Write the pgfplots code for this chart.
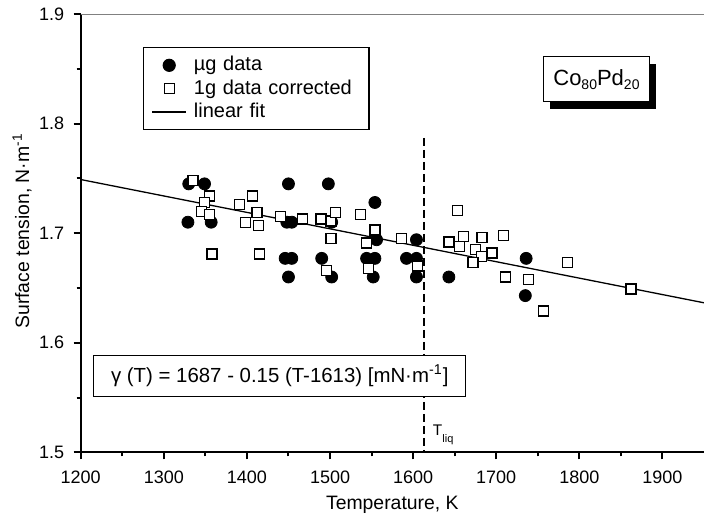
\documentclass[border=0pt]{standalone}
\usepackage{fontspec}
\setmainfont{Liberation Sans}
\usepackage{pgfplots}
\pgfplotsset{compat=1.18}
\usetikzlibrary{shadows}

% microgravity drops
\pgfplotstableread{
T gamma
1330 1.745
1349 1.745
1450 1.745
1498 1.745
1329 1.710
1357 1.710
1448 1.710
1454 1.710
1502 1.710
1446 1.677
1454 1.677
1490 1.677
1544 1.677
1554 1.677
1592 1.677
1604 1.677
1736 1.677
1450 1.660
1502 1.660
1552 1.660
1604 1.660
1643 1.660
1554 1.728
1556 1.694
1604 1.694
1735 1.643
}\ugdata

% ground based, corrected
\pgfplotstableread{
T gamma
1335 1.748
1355 1.734
1349 1.728
1345 1.720
1355 1.717
1358 1.681
1407 1.734
1391 1.726
1412 1.719
1398 1.710
1414 1.707
1415 1.681
1440 1.715
1467 1.713
1489 1.713
1501 1.711
1507 1.719
1501 1.695
1537 1.717
1544 1.691
1496 1.666
1546 1.668
1554 1.703
1586 1.695
1605 1.670
1653 1.721
1643 1.692
1656 1.688
1661 1.697
1675 1.685
1683 1.696
1682 1.679
1695 1.682
1672 1.673
1709 1.698
1711 1.660
1739 1.658
1757 1.629
1786 1.673
1862 1.649
}\onegdata

\begin{document}
\begin{tikzpicture}
\begin{axis}[
    name=ax,
    scale only axis, width=311.65pt, height=219.15pt,
    xmin=1200, xmax=1950, ymin=1.5, ymax=1.9,
    axis x line*=bottom, axis y line*=left,
    axis line style={line width=1pt},
    xtick={1200,1300,...,1900}, ytick={1.5,1.6,1.7,1.8,1.9},
    minor x tick num=1, minor y tick num=1,
    tick align=outside, major tick length=3.5pt, minor tick length=2pt,
    tick style={line width=1pt, black},
    tick label style={font=\fontsize{9}{10}\selectfont},
    /pgf/number format/assume math mode=true,
    /pgf/number format/1000 sep={},
    yticklabel style={/pgf/number format/fixed,
        /pgf/number format/precision=1,
        /pgf/number format/fixed zerofill, xshift=-1.3pt},
    xticklabel style={yshift=-2.3pt},
    xlabel={Temperature, K},
    ylabel={Surface tension, N·m\textsuperscript{-1}},
    label style={font=\fontsize{9.7}{11}\selectfont},
    xlabel style={at={(axis description cs:0.5,0)}, anchor=north,
        yshift=-21.5pt, inner sep=0pt},
    ylabel style={at={(axis description cs:-0.094,0.505)}, anchor=center,
        inner sep=0pt},
    legend cell align=left,
    legend style={at={(axis description cs:0.0998,0.9247)},
        anchor=north west, draw=black, line width=0.6pt,
        font=\fontsize{10}{12}\selectfont,
        inner xsep=4pt, inner ysep=3.5pt, row sep=1pt, column sep=3pt,
        nodes={inner sep=0.5pt, text height=7.5pt, text depth=2.2pt,
            text width=83pt, align=left}},
]
    \addlegendimage{only marks, mark=*, mark size=3pt, black}
    \addlegendentry{µg data}
    \addlegendimage{only marks, mark=square*, mark size=2.5pt,
        mark options={draw=black, fill=white, line width=0.65pt}}
    \addlegendentry{1g data corrected}
    \addlegendimage{line width=0.65pt, black}
    \addlegendentry{linear fit}

    \draw[gray, line width=0.5pt] (rel axis cs:0,1) -- (rel axis cs:1,1);

    % gamma = 1687 - 0.15 (T - 1613) mN/m
    \addplot[forget plot, line width=0.65pt, black]
        coordinates {(1200,1.74895) (1950,1.63645)};
    % liquidus
    \addplot[forget plot, line width=0.8pt, black,
        dash pattern=on 4.2pt off 1.8pt]
        coordinates {(1613,1.787) (1613,1.5)};

    \addplot[forget plot, only marks, mark=*, mark size=3pt, black]
        table[x=T, y=gamma] {\ugdata};
    \addplot[forget plot, only marks, mark=square*, mark size=2.5pt,
        mark options={draw=black, fill=white, line width=0.65pt}]
        table[x=T, y=gamma] {\onegdata};

    \node[draw, line width=0.6pt, fill=white, minimum width=53pt,
        minimum height=22.5pt, inner sep=0pt,
        font=\fontsize{11}{13}\selectfont,
        drop shadow={shadow xshift=3.5pt, shadow yshift=-3.5pt,
            opacity=1, fill=black}]
        at (axis cs:1820.6,1.8405)
        {Co\raisebox{-2pt}{\fontsize{7}{8}\selectfont 80}Pd\raisebox{-2pt}{\fontsize{7}{8}\selectfont 20}};

    \node[draw, line width=0.6pt, fill=white, minimum width=186pt,
        minimum height=20.5pt, inner sep=0pt,
        font=\fontsize{10.2}{12}\selectfont]
        at (axis cs:1439.5,1.5700)
        {γ (T) = 1687 - 0.15 (T-1613) [mN·m\textsuperscript{-1}]};

    \node[anchor=base west, inner sep=0pt, font=\fontsize{7.7}{9}\selectfont]
        at (axis cs:1623.4,1.5158)
        {T\raisebox{-3.5pt}{\fontsize{5.5}{6}\selectfont liq}};
\end{axis}
\pgfresetboundingbox
\path[use as bounding box]
    ([shift={(-40.35pt,-31.85pt)}]ax.south west) rectangle
    ([shift={(311.65pt,226.15pt)}]ax.south west);
\end{tikzpicture}
\end{document}
